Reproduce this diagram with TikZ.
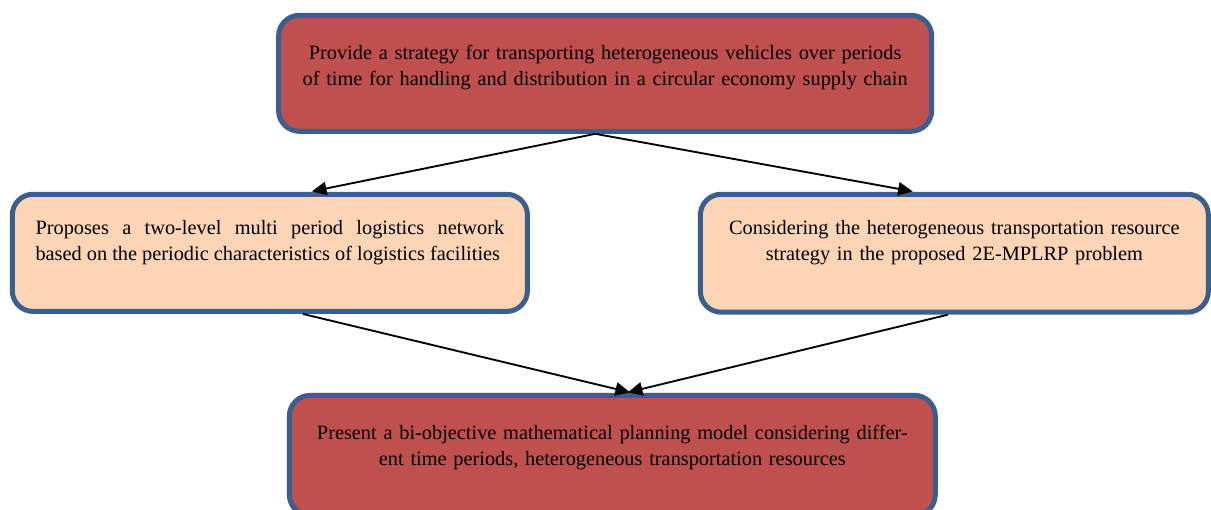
\documentclass[tikz,border=0pt]{standalone}
\usepackage{fontspec}
\setmainfont{Liberation Serif}
\usepackage{tikz}
\usetikzlibrary{arrows.meta}

\definecolor{boxred}{HTML}{C0504D}
\definecolor{boxpeach}{HTML}{FBD5B5}
\definecolor{boxedge}{HTML}{3A5F8E}

\tikzset{
  stage/.style={draw=boxedge, line width=3.75pt, rounded corners=0.55cm,
    inner sep=0pt, font=\fontsize{15.3}{19.5}\selectfont,
    text height=10pt, text depth=38pt},
  aimbox/.style={stage, fill=boxred, text depth=31pt},
  stepbox/.style={stage, fill=boxpeach},
  flow/.style={-{Triangle[length=11pt,width=10pt]}, line width=1.4pt, shorten >=1.5pt}
}

\begin{document}
\begin{tikzpicture}
\useasboundingbox (0,0) rectangle (32.04,13.49);

% goal on top, two contributions, model at the bottom
\node[aimbox, minimum width=17.28cm, minimum height=3.07cm, text width=16.4cm, align=center]
  (goal) at (16.01,11.55)
  {Provide a strategy for transporting heterogeneous vehicles over periods\\
   of time for handling and distribution in a circular economy supply chain};

\node[stepbox, minimum width=13.63cm, minimum height=3.10cm, text width=12.4cm, align=justify]
  (network) at (7.14,6.80)
  {Proposes a two-level multi period logistics network\linebreak
   based on the periodic characteristics of logistics facilities};

\node[stepbox, minimum width=13.44cm, minimum height=3.12cm, text width=12.6cm, align=center]
  (fleet) at (25.25,6.79)
  {Considering the heterogeneous transportation resource\\
   strategy in the proposed 2E-MPLRP problem};

\node[aimbox, minimum width=17.09cm, minimum height=3.18cm, text width=16.2cm, align=center,
  text depth=34pt]
  (model) at (16.20,1.44)
  {Present a bi-objective mathematical planning model considering differ-\\
   ent time periods, heterogeneous transportation resources};

\draw[flow] ([xshift=-0.26cm]goal.south) -- ([xshift=1.06cm]network.north);
\draw[flow] ([xshift=-0.26cm]goal.south) -- ([xshift=-1.05cm]fleet.north);
\draw[flow] ([xshift=0.87cm]network.south) -- ([xshift=0.52cm]model.north);
\draw[flow] ([xshift=-0.17cm]fleet.south) -- ([xshift=0.36cm]model.north);

\end{tikzpicture}
\end{document}
